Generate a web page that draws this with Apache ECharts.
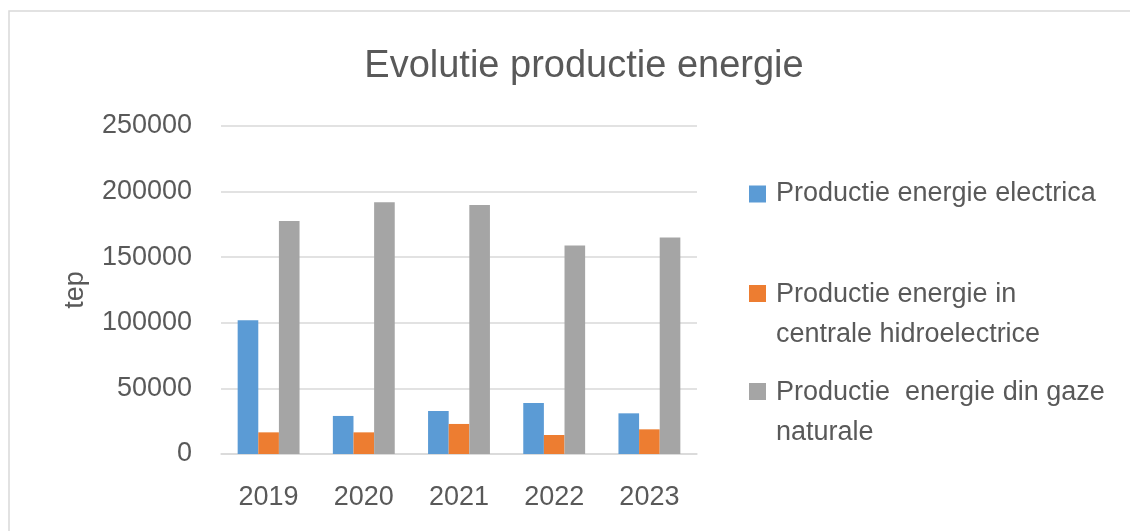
<!DOCTYPE html>
<html>
<head>
<meta charset="utf-8">
<title>Evolutie productie energie</title>
<script src="https://cdn.jsdelivr.net/npm/echarts@6/dist/echarts.min.js"></script>
<style>
  html, body { margin: 0; padding: 0; background: #fff; }
  #chart { width: 1130px; height: 531px; }
</style>
</head>
<body>
<div id="chart"></div>
<script>
// data (tep)
const years = ['2019', '2020', '2021', '2022', '2023']
const electrica = [102000, 29000, 32800, 38900, 31000]
const hidro = [16500, 16500, 22900, 14500, 18800]
const gaze = [177500, 191800, 189700, 159000, 165100]
const seriesNames = [
  'Productie energie electrica',
  'Productie energie in centrale hidroelectrice',
  'Productie  energie din gaze naturale'
]
const legendLabels = [
  'Productie energie electrica',
  'Productie energie in\ncentrale hidroelectrice',
  'Productie  energie din gaze\nnaturale'
]

const textColor = '#595959'
const font = 'Liberation Sans'
const colors = ['#5B9BD5', '#ED7D31', '#A5A5A5']

// square marker; the tall variant keeps the square on the first text line
const squareIcon = 'path://M0,0h17v17h-17z'
const tallIcon = 'path://M0,0h17v17h-17z M0,59.9h0.1v0.1h-0.1z'

function makeLegend(i, top, tall) {
  return {
    left: 749,
    top: top,
    padding: 0,
    orient: 'vertical',
    data: [{ name: seriesNames[i], icon: tall ? tallIcon : squareIcon }],
    itemWidth: 17,
    itemHeight: tall ? 60 : 17,
    itemGap: 0,
    selectedMode: false,
    formatter: () => legendLabels[i],
    textStyle: {
      color: textColor,
      fontFamily: font,
      fontSize: 27,
      lineHeight: 40,
      padding: [0, 0, 0, 5]
    }
  }
}

const chart = echarts.init(document.getElementById('chart'))
chart.setOption({
  backgroundColor: '#fff',
  animation: false,
  graphic: [{
    type: 'rect',
    shape: { x: 9, y: 11, width: 1200, height: 600 },
    style: { fill: 'none', stroke: '#D9D9D9', lineWidth: 1.5 },
    silent: true,
    z: -1
  }],
  title: {
    text: 'Evolutie productie energie',
    left: 579,
    textAlign: 'center',
    top: 43,
    textStyle: {
      color: textColor,
      fontFamily: font,
      fontWeight: 'normal',
      fontSize: 38
    }
  },
  legend: [
    makeLegend(0, 174, false),
    makeLegend(1, 275, true),
    makeLegend(2, 373, true)
  ],
  grid: {
    left: 221,
    right: 433,
    top: 126,
    bottom: 77
  },
  xAxis: {
    type: 'category',
    data: years,
    axisLine: { lineStyle: { color: '#D9D9D9', width: 1.5 } },
    axisTick: { show: false },
    axisLabel: {
      color: textColor,
      fontFamily: font,
      fontSize: 27,
      margin: 30
    }
  },
  yAxis: {
    type: 'value',
    min: 0,
    max: 250000,
    interval: 50000,
    name: 'tep',
    nameLocation: 'middle',
    nameRotate: 90,
    nameGap: 132,
    nameTextStyle: {
      color: textColor,
      fontFamily: font,
      fontSize: 27
    },
    axisLine: { show: false },
    axisTick: { show: false },
    axisLabel: {
      color: textColor,
      fontFamily: font,
      fontSize: 27,
      margin: 29,
      formatter: (v) => String(v)
    },
    splitLine: { lineStyle: { color: '#D9D9D9', width: 1.5 } }
  },
  series: [{
    name: seriesNames[0],
    type: 'bar',
    data: electrica,
    barGap: '0%',
    barCategoryGap: '35%',
    itemStyle: { color: colors[0] }
  }, {
    name: seriesNames[1],
    type: 'bar',
    data: hidro,
    barGap: '0%',
    barCategoryGap: '35%',
    itemStyle: { color: colors[1] }
  }, {
    name: seriesNames[2],
    type: 'bar',
    data: gaze,
    barGap: '0%',
    barCategoryGap: '35%',
    itemStyle: { color: colors[2] }
  }]
})
</script>
</body>
</html>
